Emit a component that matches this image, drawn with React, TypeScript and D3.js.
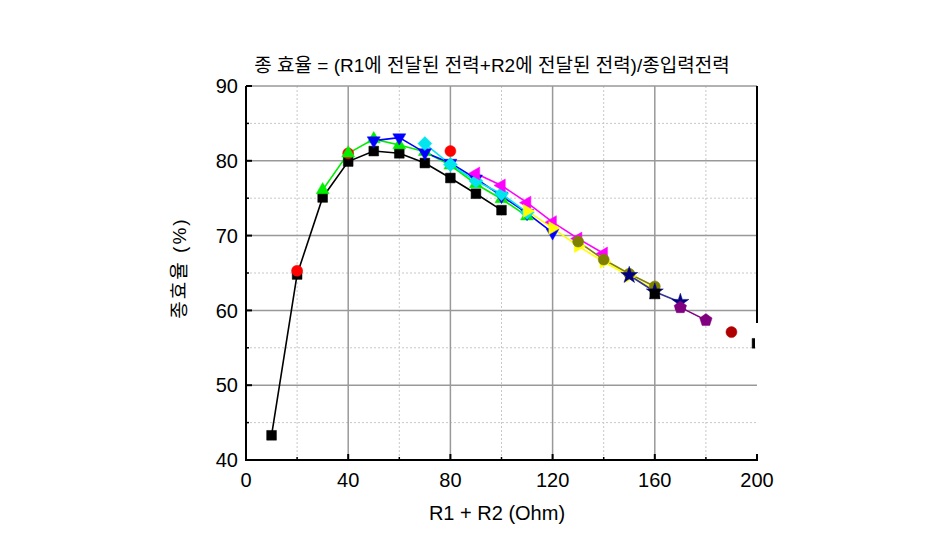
import React from "react";
import * as d3 from "d3";

type P = [number, number];

const xTicks = [0, 40, 80, 120, 160, 200];
const yTicks = [40, 50, 60, 70, 80, 90];

const blackSquare: P[] = [[10, 43.3], [20, 64.8], [30, 75.1], [40, 79.9], [50, 81.3], [60, 81.0], [70, 79.7], [80, 77.7], [90, 75.6], [100, 73.4]];
const redCircle: P[] = [[20, 65.3], [40, 81.0], [80, 81.3]];
const greenUp: P[] = [[30, 76.1], [40, 81.0], [50, 82.9], [60, 82.1], [70, 81.2], [80, 79.4], [90, 76.9], [100, 74.9], [110, 72.6]];
const blueDown: P[] = [[50, 82.7], [60, 83.1], [70, 81.1], [80, 79.7], [90, 77.6], [100, 75.3], [110, 73.0], [120, 70.4]];
const cyanDiamond: P[] = [[70, 82.3], [80, 79.5], [90, 77.3], [100, 75.6], [110, 73.1]];
const magentaLeft: P[] = [[90, 78.3], [100, 76.7], [110, 74.4], [120, 71.8], [130, 69.6], [140, 67.6]];
const yellowRight: P[] = [[110, 73.3], [120, 71.0], [130, 68.6], [140, 66.5], [150, 64.6], [160, 62.8]];
const oliveCircle: P[] = [[130, 69.2], [140, 66.8], [150, 64.9], [160, 63.2]];
const navyStar: P[] = [[150, 64.7], [160, 62.5], [170, 61.1]];
const purplePentagon: P[] = [[170, 60.4], [180, 58.7]];
const darkRedBall: P[] = [[190, 57.1]];
const blackExtra: P[] = [[160, 62.2], [200, 55.6]];

type Shape = "square" | "circle" | "up" | "down" | "left" | "right" | "diamond" | "star" | "pentagon";
interface Series { data: P[]; color: string; shape: Shape; line: boolean; lineColor?: string; }

const seriesList: Series[] = [
  { data: blackSquare, color: "#000000", shape: "square", line: true },
  { data: redCircle, color: "#ff0000", shape: "circle", line: false },
  { data: greenUp, color: "#00ee00", shape: "up", line: true },
  { data: blueDown, color: "#0000ff", shape: "down", line: true },
  { data: cyanDiamond, color: "#00e5ee", shape: "diamond", line: true },
  { data: magentaLeft, color: "#ff00ff", shape: "left", line: true },
  { data: yellowRight, color: "#ffff00", shape: "right", line: true },
  { data: oliveCircle, color: "#808000", shape: "circle", line: true },
  { data: navyStar, color: "#000080", shape: "star", line: true, lineColor: "#333399" },
  { data: purplePentagon, color: "#800080", shape: "pentagon", line: true },
  { data: darkRedBall, color: "#b00000", shape: "circle", line: false },
  { data: blackExtra, color: "#000000", shape: "square", line: false },
];

const W = 929, H = 558;
const x = d3.scaleLinear().domain([0, 200]).range([246, 757]);
const y = d3.scaleLinear().domain([40, 90]).range([460, 86]);

function poly(n: number, r: number, rot: number): string {
  const pts: string[] = [];
  for (let i = 0; i < n; i++) {
    const a = rot + (i * 2 * Math.PI) / n;
    pts.push(`${(r * Math.cos(a)).toFixed(2)},${(r * Math.sin(a)).toFixed(2)}`);
  }
  return "M" + pts.join("L") + "Z";
}

function markerPath(shape: Shape): string {
  switch (shape) {
    case "square": return d3.symbol(d3.symbolSquare, 95)()!;
    case "circle": return d3.symbol(d3.symbolCircle, 95)()!;
    case "diamond": return poly(4, 7, -Math.PI / 2);
    case "star": return d3.symbol(d3.symbolStar, 90)()!;
    case "up": return poly(3, 7.5, -Math.PI / 2);
    case "down": return poly(3, 7.5, Math.PI / 2);
    case "left": return poly(3, 7.5, Math.PI);
    case "right": return poly(3, 7.5, 0);
    case "pentagon": return poly(5, 6.5, -Math.PI / 2);
  }
}

export default function App() {
  const line = d3.line<P>().x(d => x(d[0])).y(d => y(d[1]));
  const font = "'Liberation Sans', Arial, 'Noto Sans CJK KR', sans-serif";
  const majorX = [40, 80, 120, 160];
  const minorX = [20, 60, 100, 140, 180];
  const majorY = [50, 60, 70, 80, 90];
  const minorY = [45, 55, 65, 75, 85];
  return (
    <svg width={W} height={H} style={{ position: "absolute", left: 0, top: 0, background: "#fff" }} fontFamily={font}>
      <defs>
        <clipPath id="plot"><rect x={246} y={80} width={509} height={380} /></clipPath>
      </defs>
      {/* grid */}
      {minorX.map(v => <line key={"mx" + v} x1={x(v)} x2={x(v)} y1={y(40)} y2={y(90)} stroke="#c8c8c8" strokeDasharray="2,2" strokeWidth={1} />)}
      {minorY.map(v => <line key={"my" + v} x1={x(0)} x2={x(200)} y1={y(v)} y2={y(v)} stroke="#c8c8c8" strokeDasharray="2,2" strokeWidth={1} />)}
      {majorX.map(v => <line key={"Mx" + v} x1={x(v)} x2={x(v)} y1={y(40)} y2={y(90)} stroke="#999" strokeWidth={1.5} />)}
      {majorY.map(v => <line key={"My" + v} x1={x(0)} x2={x(200)} y1={y(v)} y2={y(v)} stroke="#999" strokeWidth={1.5} />)}
      {/* series */}
      <g clipPath="url(#plot)">
        {seriesList.filter(s => s.line).map((s, i) => (
          <path key={"l" + i} d={line(s.data)!} fill="none" stroke={s.lineColor ?? s.color} strokeWidth={1.6} />
        ))}
        {seriesList.map((s, i) => s.data.map((d, j) => (
          <path key={`m${i}-${j}`} d={markerPath(s.shape)} transform={`translate(${x(d[0])},${y(d[1])})`} fill={s.color} stroke={s.color} strokeWidth={0.5} />
        )))}
      </g>
      {/* axes */}
      <line x1={x(0)} x2={x(0)} y1={y(40) + 1} y2={y(90)} stroke="#000" strokeWidth={2} />
      <line x1={x(0) - 1} x2={x(200) + 1} y1={y(40)} y2={y(40)} stroke="#000" strokeWidth={2} />
      <line x1={x(200)} x2={x(200)} y1={y(90)} y2={323} stroke="#000" strokeWidth={2} />
      {yTicks.map(v => <line key={"yt" + v} x1={x(0)} x2={x(0) + 6} y1={y(v)} y2={y(v)} stroke="#000" strokeWidth={2} />)}
      {minorY.map(v => <line key={"ymt" + v} x1={x(0)} x2={x(0) + 3} y1={y(v)} y2={y(v)} stroke="#000" strokeWidth={1.5} />)}
      {xTicks.map(v => <line key={"xt" + v} x1={x(v)} x2={x(v)} y1={y(40)} y2={y(40) - 6} stroke="#000" strokeWidth={2} />)}
      {minorX.map(v => <line key={"xmt" + v} x1={x(v)} x2={x(v)} y1={y(40)} y2={y(40) - 3} stroke="#000" strokeWidth={1.5} />)}
      {yTicks.map(v => <text key={"yl" + v} x={238} y={y(v)} dy="0.36em" textAnchor="end" fontSize={20}>{v}</text>)}
      {xTicks.map(v => <text key={"xl" + v} x={x(v)} y={487} textAnchor="middle" fontSize={20}>{v}</text>)}
      <text x={497} y={520} textAnchor="middle" fontSize={20}>R1 + R2 (Ohm)</text>
      <text transform="translate(186,268) rotate(-90)" textAnchor="middle" fontSize={19} letterSpacing={2}>종효율 (%)</text>
      <text x={492} y={72} textAnchor="middle" fontSize={19}>종 효율 = (R1에 전달된 전력+R2에 전달된 전력)/종입력전력</text>
    </svg>
  );
}
